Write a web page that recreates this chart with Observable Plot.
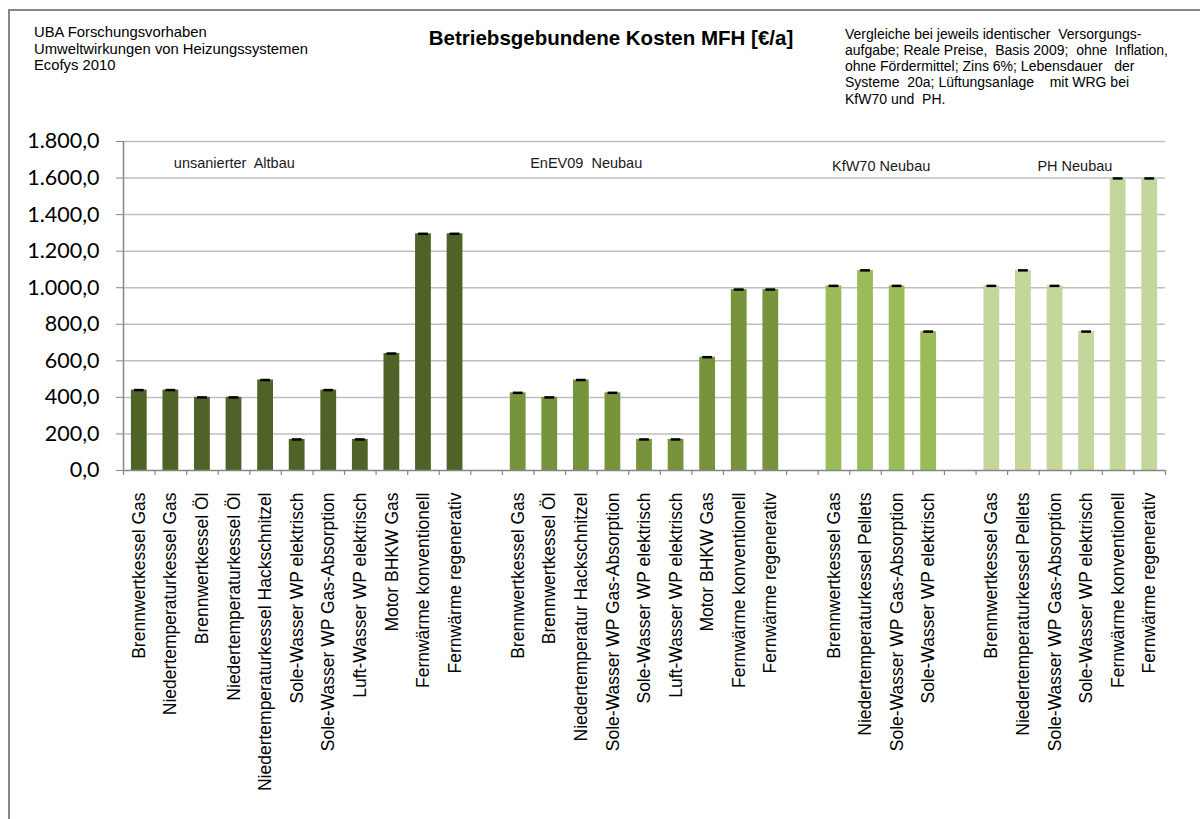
<!DOCTYPE html>
<html><head><meta charset="utf-8">
<script src="https://cdn.jsdelivr.net/npm/d3@7"></script>
<script src="https://cdn.jsdelivr.net/npm/@observablehq/plot@0.6"></script>
<style>
html,body{margin:0;padding:0;background:#fff;width:1200px;height:819px;overflow:hidden;}
#page{position:relative;width:1200px;height:819px;font-family:"Liberation Sans",Arial,sans-serif;color:#000;overflow:hidden;}
#border{position:absolute;left:7.5px;top:8.5px;width:1300px;height:900px;border-left:2px solid #878787;border-top:2px solid #878787;pointer-events:none;z-index:5;}
.hdr{position:absolute;white-space:pre;}
#src{left:34px;top:24px;font-size:14.8px;line-height:16.5px;}
#title{left:411px;width:400px;top:26px;text-align:center;font-weight:bold;font-size:20.5px;}
#note{left:845px;top:25.5px;font-size:14px;line-height:16.3px;}
#chart{position:absolute;left:0;top:120px;}
</style></head><body>
<div id="page">
  <div id="src" class="hdr"></div>
  <div id="title" class="hdr"></div>
  <div id="note" class="hdr"></div>
  <div id="chart"></div>
  <div id="border"></div>
</div>
<script>
// ---- texts ----
const sourceLines = ["UBA Forschungsvorhaben", "Umweltwirkungen von Heizungssystemen", "Ecofys 2010"];
const titleText = "Betriebsgebundene Kosten MFH [€/a]";
const noteLines = [
  "Vergleiche bei jeweils identischer  Versorgungs-",
  "aufgabe; Reale Preise,  Basis 2009;  ohne  Inflation,",
  "ohne Fördermittel; Zins 6%; Lebensdauer   der",
  "Systeme  20a; Lüftungsanlage    mit WRG bei",
  "KfW70 und  PH."
];

// ---- data ----
const groupNames = ["unsanierter  Altbau", "EnEV09  Neubau", "KfW70 Neubau", "PH Neubau"];
const groupColors = ["#4F6228", "#77933C", "#9BBB59", "#C3D69B"];

const altbauSystems = ["Brennwertkessel Gas", "Niedertemperaturkessel Gas", "Brennwertkessel Öl", "Niedertemperaturkessel Öl", "Niedertemperaturkessel Hackschnitzel", "Sole-Wasser WP elektrisch", "Sole-Wasser WP Gas-Absorption", "Luft-Wasser WP elektrisch", "Motor BHKW Gas", "Fernwärme konventionell", "Fernwärme regenerativ"];
const altbauCosts = [440, 440, 400, 400, 495, 170, 440, 170, 640, 1295, 1295];

const enev09Systems = ["Brennwertkessel Gas", "Brennwertkessel Öl", "Niedertemperatur Hackschnitzel", "Sole-Wasser WP Gas-Absorption", "Sole-Wasser WP elektrisch", "Luft-Wasser WP elektrisch", "Motor BHKW Gas", "Fernwärme konventionell", "Fernwärme regenerativ"];
const enev09Costs = [425, 400, 495, 425, 170, 170, 620, 990, 990];

const kfw70Systems = ["Brennwertkessel Gas", "Niedertemperaturkessel Pellets", "Sole-Wasser WP Gas-Absorption", "Sole-Wasser WP elektrisch"];
const kfw70Costs = [1010, 1095, 1010, 760];

const phSystems = ["Brennwertkessel Gas", "Niedertemperaturkessel Pellets", "Sole-Wasser WP Gas-Absorption", "Sole-Wasser WP elektrisch", "Fernwärme konventionell", "Fernwärme regenerativ"];
const phCosts = [1010, 1095, 1010, 760, 1598, 1598];

const yTicks = [0, 200, 400, 600, 800, 1000, 1200, 1400, 1600, 1800];

// ---- header ----
document.getElementById("src").textContent = sourceLines.join("\n");
document.getElementById("title").textContent = titleText;
document.getElementById("note").textContent = noteLines.join("\n");

// ---- build table ----
const groupSystems = [altbauSystems, enev09Systems, kfw70Systems, phSystems];
const groupCosts = [altbauCosts, enev09Costs, kfw70Costs, phCosts];
const rows = [];
const xDomain = [];
const nameOf = {};
groupSystems.forEach((systems, g) => {
  if (g > 0) { const gk = "gap" + g; xDomain.push(gk); nameOf[gk] = ""; }
  systems.forEach((s, i) => {
    const key = g + "|" + i;
    xDomain.push(key);
    nameOf[key] = s;
    rows.push({key, system: s, group: groupNames[g], cost: groupCosts[g][i]});
  });
});

const de = d3.formatLocale({decimal: ",", thousands: ".", grouping: [3], currency: ["", " €"]});
const fmt = de.format(",.1f");

const left = 123, right = 1165;
const step = (right - left) / xDomain.length;
const axisGray = "#868686";

// group label anchors (key of category the label starts at)
const groupLabelKeys = ["0|1", "1|0", "2|0", "3|1"];
const groupLabelDx = [3, 12, -2, 14];
const groupLabelY = [1680, 1680, 1662, 1662];

const labelMarks = groupNames.map((name, g) =>
  Plot.text([name], {x: () => groupLabelKeys[g], y: () => groupLabelY[g], text: d => d, textAnchor: "start", dx: groupLabelDx[g], fontSize: 14.5, fill: "#1a1a1a"})
);

const chart = Plot.plot({
  width: 1200,
  height: 699,
  marginTop: 21,
  marginBottom: 349,
  marginLeft: left,
  marginRight: 1200 - right,
  style: {fontFamily: "Liberation Sans, Arial, sans-serif", background: "transparent", overflow: "visible"},
  x: {domain: xDomain, paddingInner: 0.5, paddingOuter: 0.25, round: false, label: null},
  y: {domain: [0, 1800], label: null},
  color: {domain: groupNames, range: groupColors},
  marks: [
    Plot.ruleY(yTicks.filter(d => d > 0), {stroke: "#BFBFBF", strokeWidth: 1.5}),
    Plot.barY(rows, {x: "key", y: "cost", fill: "group"}),
    Plot.tickY(rows, {x: "key", y: "cost", stroke: "#000", strokeWidth: 2.5, insetLeft: 3, insetRight: 3}),
    Plot.ruleY([0], {stroke: axisGray, strokeWidth: 1.5}),
    Plot.ruleX([xDomain[0]], {x: d => d, dx: -step / 2, y1: 0, y2: 1800, stroke: axisGray, strokeWidth: 1.5}),
    Plot.ruleX(xDomain, {x: d => d, dx: -step / 2, y1: 0, y2: 0, insetBottom: -5, stroke: axisGray, strokeWidth: 1.2}),
    Plot.ruleX([xDomain[xDomain.length - 1]], {x: d => d, dx: step / 2, y1: 0, y2: 0, insetBottom: -5, stroke: axisGray, strokeWidth: 1.2}),
    Plot.axisY({ticks: yTicks, tickFormat: fmt, tickSize: 7, tickPadding: 17, fontSize: 21.5, fontFamily: "Lato", stroke: axisGray, fill: "#000", label: null}),
    Plot.axisX({ticks: xDomain, tickFormat: k => nameOf[k], tickRotate: -90, tickSize: 0, tickPadding: 22, fontSize: 17.5, fill: "#000", label: null}),
    ...labelMarks
  ]
});
document.getElementById("chart").appendChild(chart);
</script>
</body></html>
